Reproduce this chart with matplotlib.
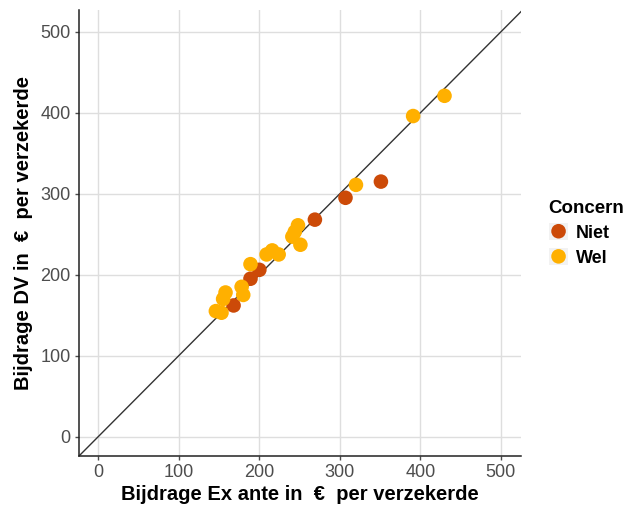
import matplotlib
matplotlib.use("Agg")
import matplotlib.pyplot as plt
from matplotlib.legend_handler import HandlerPathCollection
from matplotlib.patches import Rectangle

plt.rcParams['font.family'] = ['Liberation Sans', 'DejaVu Sans']

niet_x = [168, 189, 200, 269, 307, 351]
niet_y = [162, 195, 206, 268, 295, 315]
wel_x = [146, 153, 155, 158, 178, 180, 189, 209, 216, 224, 241, 244, 248, 251, 320, 391, 430]
wel_y = [155, 153, 170, 178, 185, 175, 213, 225, 230, 225, 247, 253, 261, 237, 311, 396, 421]
ticks = [0, 100, 200, 300, 400, 500]

c_niet = '#CC4A08'
c_wel = '#FFB000'

fig = plt.figure(figsize=(6.25, 5.09), dpi=100)
ax = fig.add_axes([79/625, 53/509, 442/625, 446/509])
ax.set_xlim(-24, 525)
ax.set_ylim(-24, 527)
ax.set_xticks(ticks)
ax.set_yticks(ticks)
ax.grid(True, color='#DEDEDE', linewidth=1.0)
ax.set_axisbelow(True)
for s in ['top', 'right']:
    ax.spines[s].set_visible(False)
for s in ['left', 'bottom']:
    ax.spines[s].set_color('#222222')
    ax.spines[s].set_linewidth(1.1)
ax.tick_params(colors='#4D4D4D', labelsize=13, length=3, width=1, pad=3)

ax.axline((0, 0), slope=1, color='#333333', linewidth=1.0, zorder=2)

s1 = ax.scatter(niet_x, niet_y, s=110, color=c_niet, edgecolors='none', zorder=3, label='Niet')
s2 = ax.scatter(wel_x, wel_y, s=110, color=c_wel, edgecolors='none', zorder=3, label='Wel')

ax.set_xlabel('Bijdrage Ex ante in  €  per verzekerde', fontsize=14.5, fontweight='bold', color='black', labelpad=3)
ax.set_ylabel('Bijdrage DV in  €  per verzekerde', fontsize=14.5, fontweight='bold', color='black', labelpad=5)


class BoxHandler(HandlerPathCollection):
    def create_artists(self, legend, orig_handle, xdescent, ydescent, width, height, fontsize, trans):
        rect = Rectangle((-xdescent, -ydescent), width, height, facecolor='#F2F2F2',
                         edgecolor='none', transform=trans)
        arts = super().create_artists(legend, orig_handle, xdescent, ydescent, width, height, fontsize, trans)
        return [rect] + list(arts)


leg = fig.legend(handles=[s1, s2], labels=['Niet', 'Wel'], title='Concern',
                 loc='upper left', bbox_to_anchor=(545/625, 1 - 196/509), borderaxespad=0,
                 frameon=False, scatterpoints=1, handlelength=1.1, handleheight=1.1,
                 labelspacing=0.35, handletextpad=0.4, borderpad=0.2, fontsize=13,
                 title_fontproperties={'weight': 'bold', 'size': 13.5},
                 handler_map={s1: BoxHandler(), s2: BoxHandler()})
leg._legend_box.align = 'left'
for t in leg.get_texts():
    t.set_fontweight('bold')

fig.savefig('out.png', dpi=100)
